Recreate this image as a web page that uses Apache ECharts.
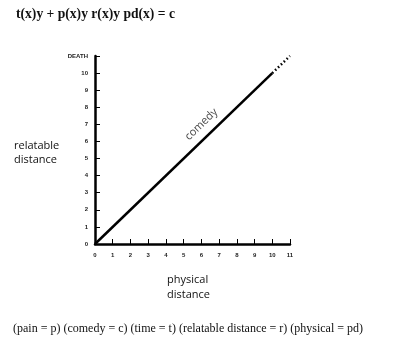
<!DOCTYPE html>
<html><head><meta charset="utf-8">
<script src="https://cdn.jsdelivr.net/npm/echarts@6/dist/echarts.min.js"></script>
<style>html,body{margin:0;padding:0;background:#fff}#c{width:400px;height:362px}</style>
</head><body><div id="c"></div>
<script>
const xTicks = [0,1,2,3,4,5,6,7,8,9,10,11];
const yTickLabels = ['0','1','2','3','4','5','6','7','8','9','10','DEATH'];
const solidLine = [[0,0],[10,10]];
const dottedLine = [[10,10],[11,11]];
const seriesLabel = 'comedy';
const labelPoint = [[6.0,7.0]];
const titleText = 't(x)y + p(x)y r(x)y pd(x) = c';
const captionText = '(pain = p) (comedy = c) (time = t) (relatable distance = r) (physical = pd)';
const xName = ['physical','distance'];
const yName = ['relatable','distance'];

const chart = echarts.init(document.getElementById('c'), null, {renderer:'canvas'});
const tickFont = {fontFamily:'Liberation Sans, Arial', fontSize:6, fontWeight:'bold', color:'#222'};
chart.setOption({
  animation:false,
  grid:{left:95, right:110, top:56, bottom:118},
  xAxis:{type:'value', min:0, max:11, interval:1,
    axisLine:{show:true, lineStyle:{color:'#000', width:2.5}},
    axisTick:{show:true, inside:true, length:5, lineStyle:{color:'#000', width:1}},
    splitLine:{show:false},
    axisLabel:Object.assign({margin:8, formatter:v=>String(xTicks[v])}, tickFont)},
  yAxis:{type:'value', min:0, max:11, interval:1,
    axisLine:{show:true, lineStyle:{color:'#000', width:2.5}},
    axisTick:{show:true, inside:true, length:5, lineStyle:{color:'#000', width:1}},
    splitLine:{show:false},
    axisLabel:Object.assign({margin:7, formatter:v=>yTickLabels[v]}, tickFont)},
  series:[
    {type:'line', data:solidLine, symbol:'none', lineStyle:{color:'#000', width:2.5}},
    {type:'line', data:dottedLine, symbol:'none', lineStyle:{color:'#000', width:2.5, type:[1.5,2.5]}},
    {type:'scatter', data:labelPoint, symbolSize:0, silent:true,
      label:{show:true, position:'inside', formatter:seriesLabel, rotate:44,
        fontFamily:'Open Sans', fontSize:11, color:'#111'}}
  ],
  graphic:[
    {type:'text', left:16, top:7, style:{text:titleText, font:'bold 13.6px "Liberation Serif"', fill:'#111'}},
    {type:'text', left:13, top:323, style:{text:captionText, font:'12px "Liberation Serif"', fill:'#111'}},
    {type:'text', left:14, top:139, style:{text:yName.join('\n'), font:'11px "Open Sans"', fill:'#111', lineHeight:14}},
    {type:'text', left:167, top:272, style:{text:xName.join('\n'), font:'11px "Open Sans"', fill:'#111', lineHeight:15}}
  ]
});
</script></body></html>
